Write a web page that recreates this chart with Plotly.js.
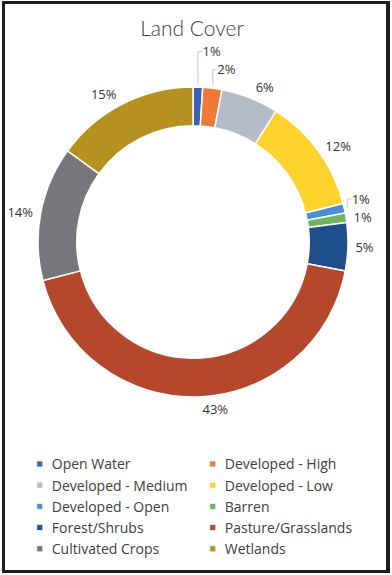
<!DOCTYPE html>
<html>
<head>
<meta charset="utf-8">
<script src="https://cdn.plot.ly/plotly-3.0.1.min.js"></script>
<style>
html,body{margin:0;padding:0;background:#fff;}
#wrap{position:relative;width:392px;height:575px;overflow:hidden;}
#chart{position:absolute;left:0;top:0;width:392px;height:575px;}
#frame{position:absolute;left:2px;top:1px;width:381px;height:566px;border:3px solid #1e1e1e;border-right-width:4px;pointer-events:none;}
</style>
</head>
<body>
<div id="wrap"><div id="chart"></div><div id="frame"></div></div>
<script>
const categories = ["Open Water","Developed - High","Developed - Medium","Developed - Low","Developed - Open","Barren","Forest/Shrubs","Pasture/Grasslands","Cultivated Crops","Wetlands"];
const values = [1, 2, 6, 12, 1, 1, 5, 43, 14, 15];
const colors = ["#3a63b8","#ee7a3a","#b6bcc7","#fdd22a","#4a8fd6","#6cb55a","#1f4f8a","#b5472a","#76777b","#b5921f"];

const labelFont = {family: "Open Sans, Liberation Sans, sans-serif", size: 13, color: "#333333"};

// visible donut
const ring = {
  type: "pie",
  labels: categories,
  values: values,
  sort: false,
  direction: "clockwise",
  rotation: 0,
  hole: 0.75,
  marker: {colors: colors, line: {color: "#ffffff", width: 1.5}},
  textinfo: "none",
  automargin: false,
  domain: {x: [0.0969, 0.8878], y: [0.3096, 0.8487]},
  hoverinfo: "label+percent"
};

// transparent ring carrying the outside percentage labels slightly further out
const labelRing = {
  type: "pie",
  labels: categories,
  values: values,
  sort: false,
  direction: "clockwise",
  rotation: 0,
  hole: 0.95,
  showlegend: false,
  marker: {colors: categories.map(() => "rgba(0,0,0,0)"), line: {width: 0}},
  texttemplate: "%{percent:.0%}",
  textposition: "outside",
  outsidetextfont: labelFont,
  textfont: labelFont,
  automargin: false,
  domain: {x: [0.0893, 0.8954], y: [0.3043, 0.8539]},
  hoverinfo: "skip"
};

const layout = {
  width: 392,
  height: 575,
  margin: {l: 0, r: 0, t: 0, b: 0},
  paper_bgcolor: "#ffffff",
  title: {
    text: "Land Cover",
    font: {family: "Lato, Open Sans, sans-serif", size: 21, color: "#404040", weight: 300},
    x: 0.49, xanchor: "center", y: 0.951, yanchor: "middle"
  },
  showlegend: true,
  legend: {
    orientation: "h",
    x: 0.03, xanchor: "left",
    y: 0.2202, yanchor: "top",
    entrywidth: 128,
    entrywidthmode: "pixels",
    itemwidth: 30,
    traceorder: "normal",
    font: {family: "Open Sans, Liberation Sans, sans-serif", size: 14, color: "#404040"}
  }
};

Plotly.newPlot("chart", [ring, labelRing], layout, {displayModeBar: false, staticPlot: true}).then(function(gd){
  // smaller legend swatches sitting close to the text, as in the reference
  gd.querySelectorAll(".legendpoints path").forEach(function(p){
    p.setAttribute("transform", "translate(28,0) scale(0.5)");
  });
  // faint grey leader lines
  gd.querySelectorAll("path.textline").forEach(function(p){
    p.style.stroke = "#c8c8c8";
    p.style.strokeWidth = "1px";
  });
});
</script>
</body>
</html>
